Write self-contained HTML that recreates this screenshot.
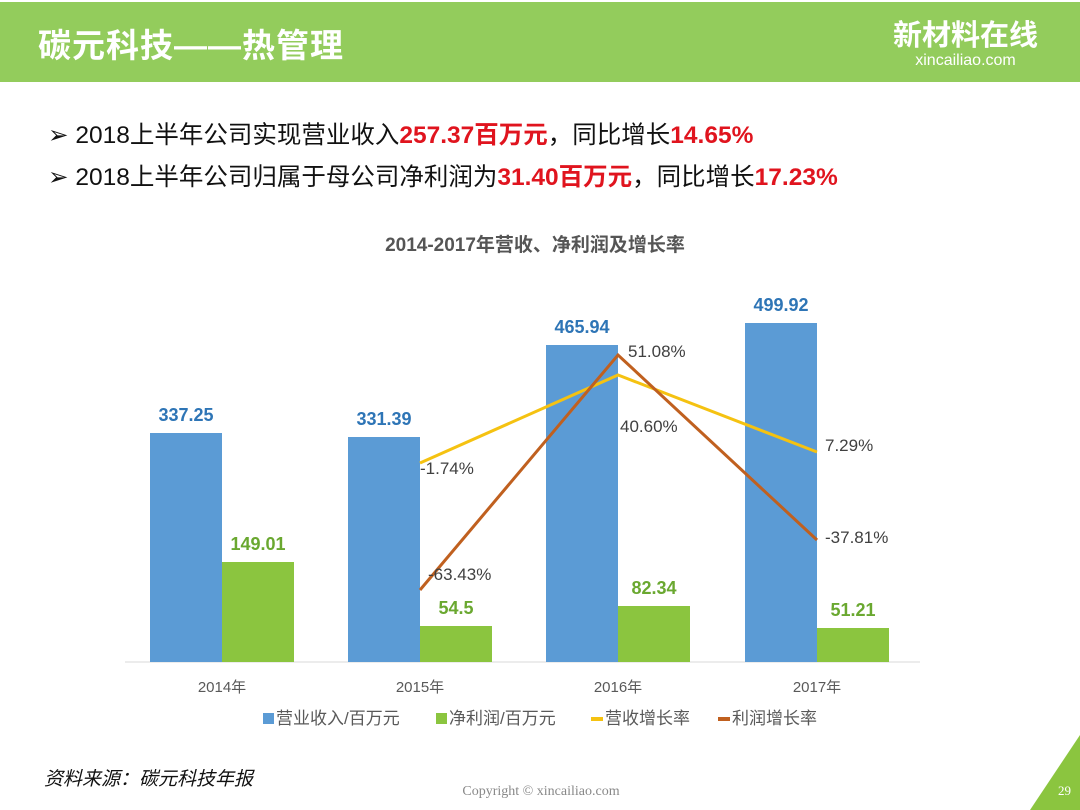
<!DOCTYPE html>
<html><head><meta charset="utf-8"><style>
body{margin:0;width:1080px;height:810px;background:#fff;overflow:hidden;position:relative;font-family:"Liberation Sans","Noto Sans CJK SC",sans-serif}
.hdr{position:absolute;left:0;top:2px;width:1080px;height:80px;background:#93cc5c}
.t{position:absolute;left:38px;top:19px;font-size:33px;font-weight:bold;color:#fff;letter-spacing:1px}
.logo{position:absolute;right:42px;top:20px;color:#fff;text-align:center;font-weight:bold}
.b{position:absolute;left:48px;font-size:24.5px;color:#111}
.r{color:#e0141e;font-weight:bold}
</style></head><body>
<div class="hdr"></div>
<div class="t">碳元科技——热管理</div>
<div class="logo"><div style="font-size:29px;line-height:32px">新材料在线</div><div style="font-size:16px;font-weight:normal">xincailiao.com</div></div>
<div class="b" style="top:116px">➢ 2018上半年公司实现营业收入<span class="r">257.37百万元</span>，同比增长<span class="r">14.65%</span></div>
<div class="b" style="top:158px">➢ 2018上半年公司归属于母公司净利润为<span class="r">31.40百万元</span>，同比增长<span class="r">17.23%</span></div>
<svg width="1080" height="810" style="position:absolute;left:0;top:0" font-family="Liberation Sans,Noto Sans CJK SC,sans-serif">
<text x="535" y="251" text-anchor="middle" font-size="19" font-weight="bold" fill="#555">2014-2017年营收、净利润及增长率</text>
<line x1="125" y1="662" x2="920" y2="662" stroke="#d9d9d9"/>
<g fill="#5b9bd5"><rect x="150" y="433" width="72" height="229"/><rect x="348" y="437" width="72" height="225"/><rect x="546" y="345" width="72" height="317"/><rect x="745" y="323" width="72" height="339"/></g>
<g fill="#8bc53f"><rect x="222" y="562" width="72" height="100"/><rect x="420" y="626" width="72" height="36"/><rect x="618" y="606" width="72" height="56"/><rect x="817" y="628" width="72" height="34"/></g>
<polyline points="420,463 618,375 817,452" fill="none" stroke="#f5c211" stroke-width="3"/>
<polyline points="420,590 618,355 817,540" fill="none" stroke="#c0601f" stroke-width="3"/>
<g font-size="18" font-weight="bold" fill="#2e75b6" text-anchor="middle"><text x="186" y="421">337.25</text><text x="384" y="425">331.39</text><text x="582" y="333">465.94</text><text x="781" y="311">499.92</text></g>
<g font-size="18" font-weight="bold" fill="#6aa830" text-anchor="middle"><text x="258" y="550">149.01</text><text x="456" y="614">54.5</text><text x="654" y="594">82.34</text><text x="853" y="616">51.21</text></g>
<g font-size="17" fill="#404040"><text x="420" y="474">-1.74%</text><text x="428" y="580">-63.43%</text><text x="620" y="432">40.60%</text><text x="628" y="357">51.08%</text><text x="825" y="451">7.29%</text><text x="825" y="543">-37.81%</text></g>
<g font-size="15" fill="#595959" text-anchor="middle"><text x="222" y="692">2014年</text><text x="420" y="692">2015年</text><text x="618" y="692">2016年</text><text x="817" y="692">2017年</text></g>
<g font-size="17" fill="#595959"><rect x="263" y="713" width="11" height="11" fill="#5b9bd5"/><text x="276" y="724">营业收入/百万元</text>
<rect x="436" y="713" width="11" height="11" fill="#8bc53f"/><text x="449" y="724">净利润/百万元</text>
<rect x="591" y="717" width="12" height="4" fill="#f5c211"/><text x="605" y="724">营收增长率</text>
<rect x="718" y="717" width="12" height="4" fill="#c0601f"/><text x="732" y="724">利润增长率</text></g>
<text x="44" y="785" font-size="19" font-style="italic" fill="#111">资料来源：碳元科技年报</text>
<text x="541" y="795" font-size="14" fill="#888" text-anchor="middle" font-family="Liberation Serif,serif">Copyright © xincailiao.com</text>
<polygon points="1080,735 1080,810 1030,810" fill="#8bc53f"/>
<text x="1058" y="795" font-size="13" fill="#fff" font-family="Liberation Serif,serif">29</text>
</svg>
</body></html>
